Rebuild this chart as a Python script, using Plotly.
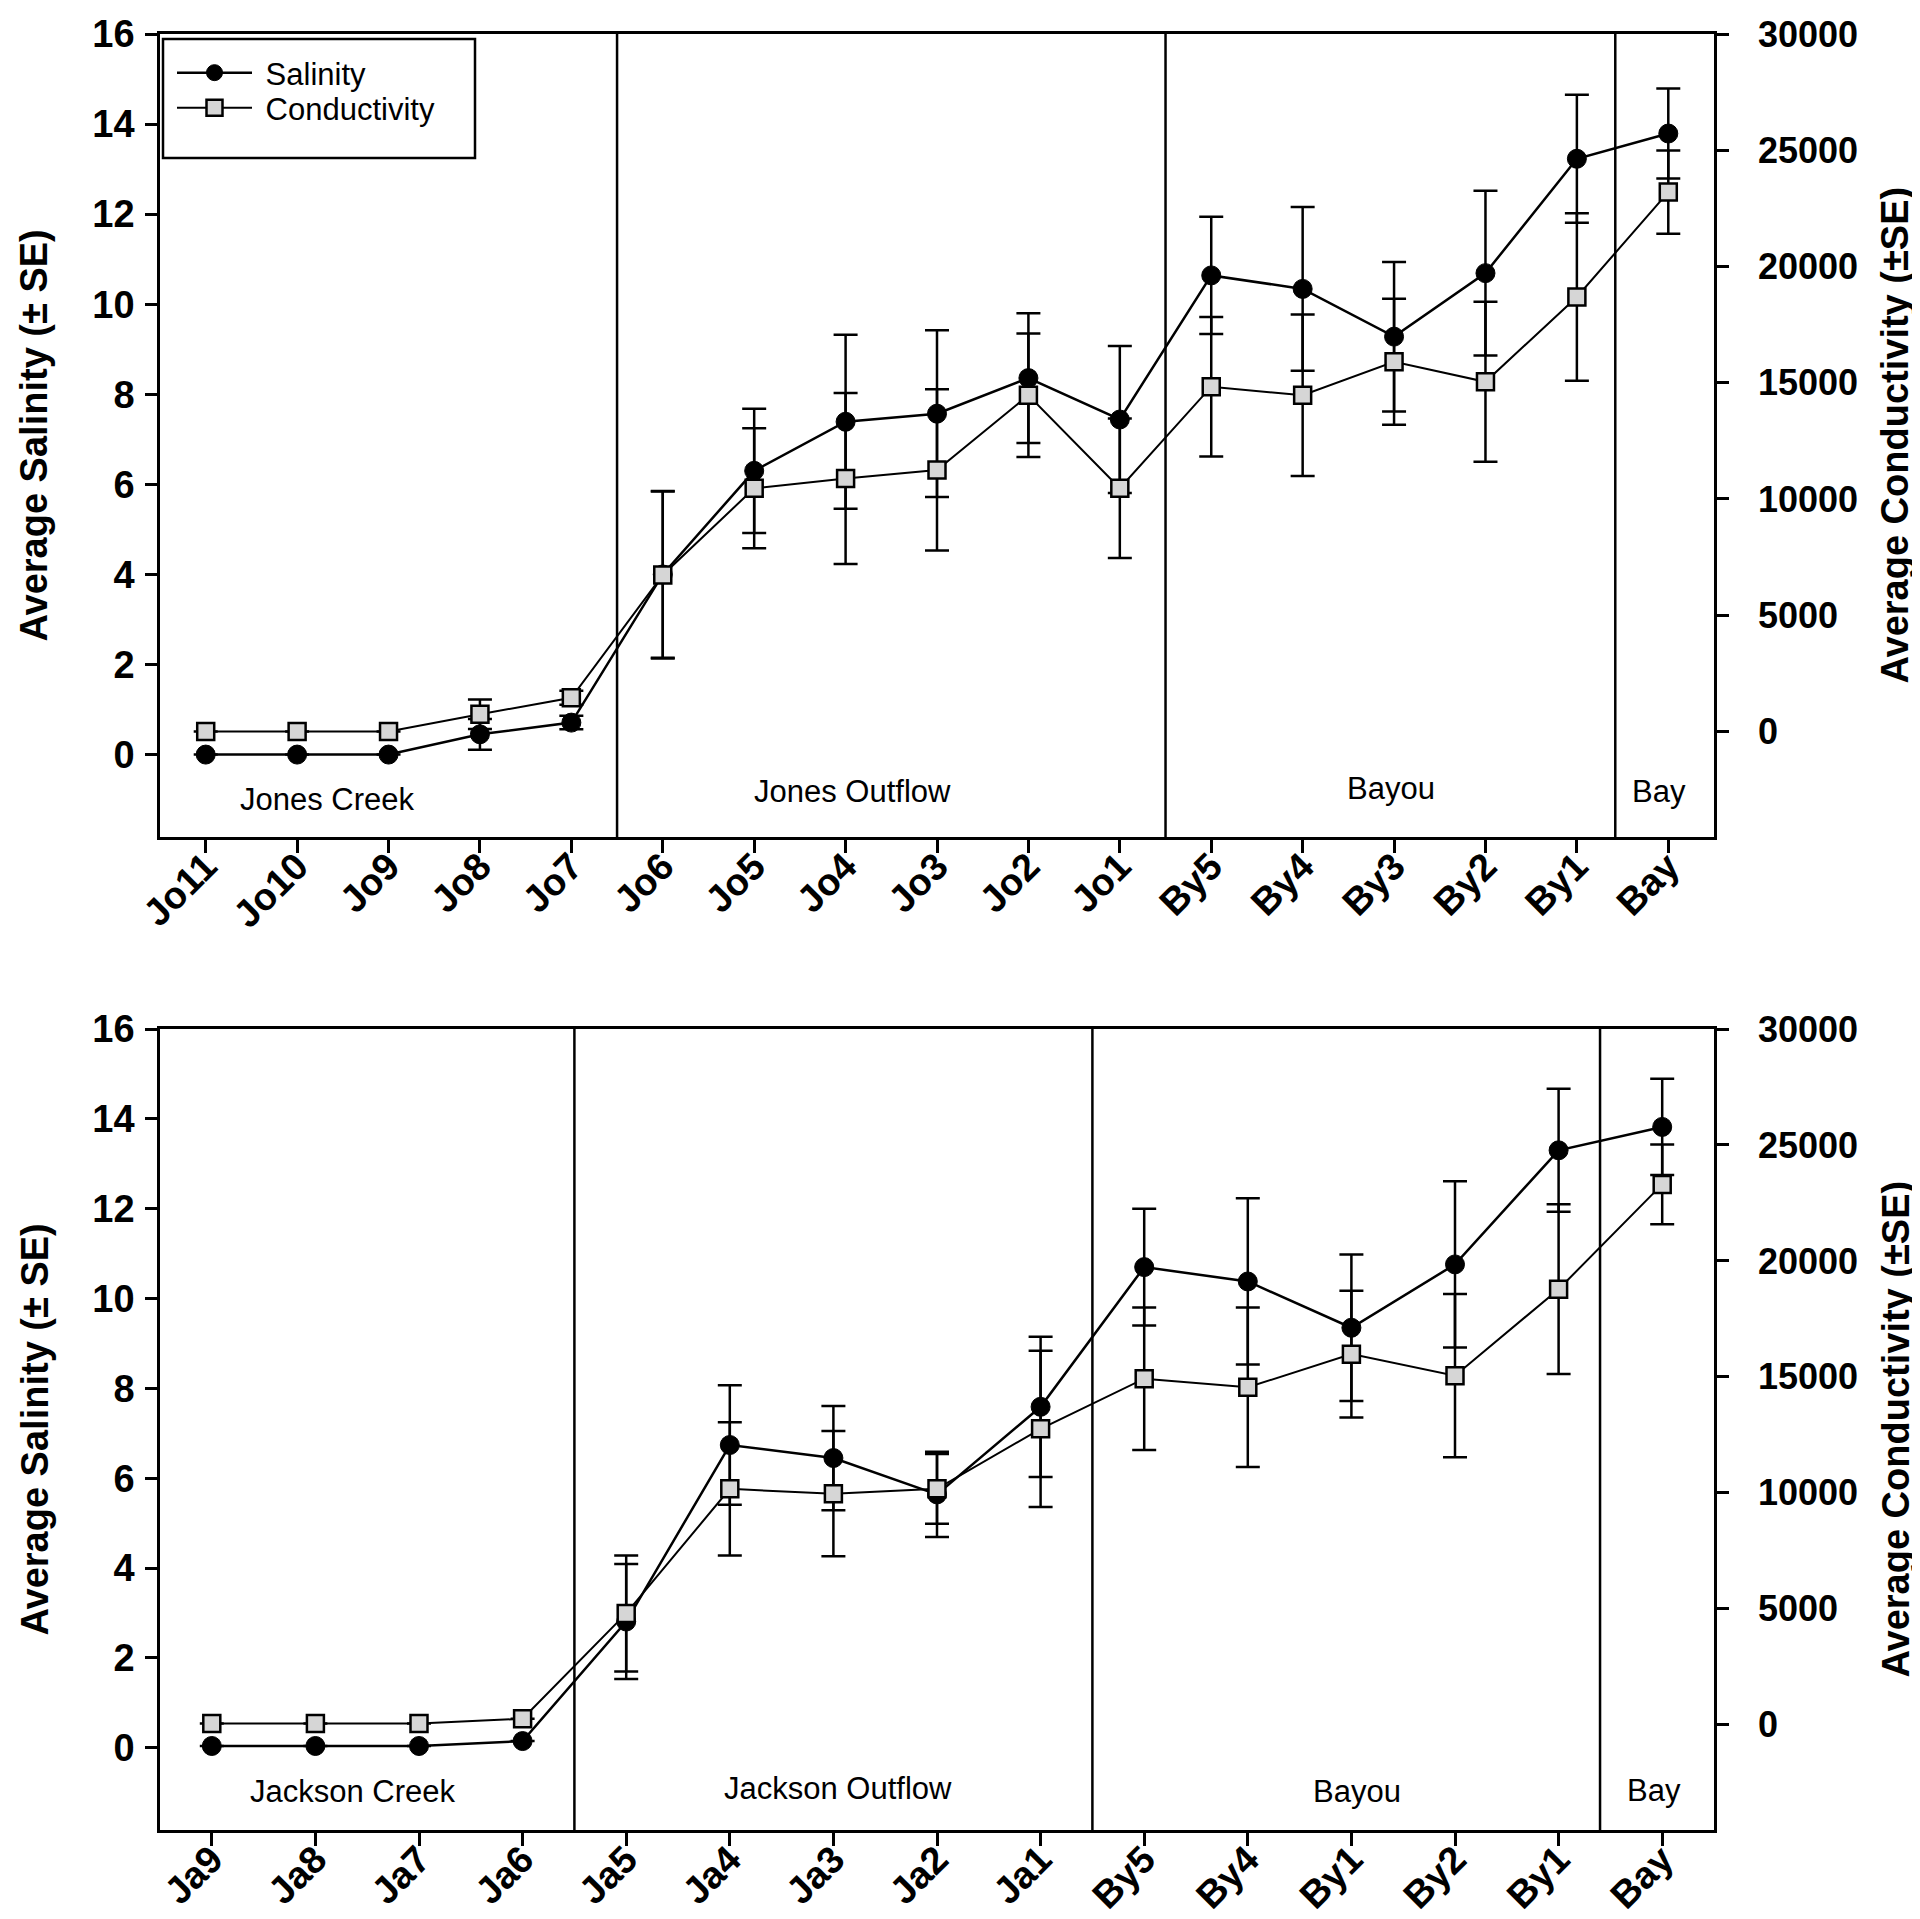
import plotly.graph_objects as go

# ---------------- data ----------------
sites_top = ["Jo11", "Jo10", "Jo9", "Jo8", "Jo7", "Jo6", "Jo5", "Jo4", "Jo3", "Jo2", "Jo1",
             "By5", "By4", "By3", "By2", "By1", "Bay"]
sal_top = [0.0, 0.0, 0.0, 0.45, 0.71, 4.0, 6.3, 7.39, 7.57, 8.36, 7.44,
           10.64, 10.34, 9.28, 10.69, 13.23, 13.79]
sal_top_se = [0.0, 0.0, 0.0, 0.34, 0.15, 1.85, 1.38, 1.93, 1.85, 1.44, 1.63,
              1.30, 1.82, 1.66, 1.83, 1.42, 1.00]
cond_top = [0, 0, 0, 740, 1450, 6730, 10460, 10880, 11250, 14460, 10460,
            14830, 14460, 15900, 15040, 18690, 23200]
cond_top_se = [0, 0, 0, 630, 300, 3590, 2580, 3680, 3470, 2660, 3000,
               3000, 3470, 2710, 3440, 3600, 1790]

sites_bot = ["Ja9", "Ja8", "Ja7", "Ja6", "Ja5", "Ja4", "Ja3", "Ja2", "Ja1",
             "By5", "By4", "By1", "By2", "By1", "Bay"]
sal_bot = [0.04, 0.04, 0.04, 0.15, 2.81, 6.74, 6.45, 5.64, 7.59,
           10.7, 10.38, 9.35, 10.76, 13.3, 13.82]
sal_bot_se = [0.0, 0.0, 0.0, 0.0, 1.28, 1.33, 1.16, 0.95, 1.56,
              1.3, 1.85, 1.63, 1.85, 1.37, 1.07]
cond_bot = [50, 50, 50, 260, 4800, 10170, 9960, 10170, 12760,
            14920, 14550, 15980, 15050, 18780, 23300]
cond_bot_se = [0, 0, 0, 0, 2500, 2870, 2700, 1500, 3370,
               3070, 3440, 2730, 3520, 3660, 1720]

# region dividers (category index positions) and labels
div_top = [4.5, 10.5, 15.42]
div_bot = [3.5, 8.5, 13.4]
reg_top = ["Jones Creek", "Jones Outflow", "Bayou", "Bay"]
reg_top_x = [1.33, 7.08, 12.97, 15.9]
reg_top_y = [-1.0, -0.82, -0.75, -0.82]
reg_bot = ["Jackson Creek", "Jackson Outflow", "Bayou", "Bay"]
reg_bot_x = [1.36, 6.04, 11.05, 13.92]
reg_bot_y = [-0.98, -0.9, -0.98, -0.95]

sal_ticks = list(range(0, 17, 2))
cond_ticks = list(range(0, 30001, 5000))

# ---------------- figure ----------------
W, H = 1920, 1919
FONT = "Liberation Sans, Arial, sans-serif"
BLK = "black"

def py(y):
    return 1 - y / H

xdom = [152 / W, 1706 / W]
ydom_top = [py(829), py(26)]
ydom_bot = [py(1822), py(1021)]

yfont = dict(family=FONT, size=38, color=BLK, weight="bold")
rfont = dict(family=FONT, size=36, color=BLK, weight="bold")
xfont = dict(family=FONT, size=38, color=BLK, weight="bold")

fig = go.Figure()

def add_pair(sal, sal_se, cond, cond_se, xa, ya, ya2, show):
    idx = list(range(len(sal)))
    fig.add_trace(go.Scatter(
        x=idx, y=sal, xaxis=xa, yaxis=ya, name="\u00a0Salinity", mode="lines+markers",
        line=dict(color=BLK, width=2.5),
        marker=dict(symbol="circle", size=19, color=BLK, line=dict(color=BLK, width=1)),
        error_y=dict(type="data", array=sal_se, visible=True, color=BLK, thickness=2.5, width=12),
        showlegend=show, legend="legend", cliponaxis=False))
    fig.add_trace(go.Scatter(
        x=idx, y=cond, xaxis=xa, yaxis=ya2, name="\u00a0Conductivity", mode="lines+markers",
        line=dict(color=BLK, width=2),
        marker=dict(symbol="square", size=17, color="#d6d6d6", line=dict(color=BLK, width=2.5)),
        error_y=dict(type="data", array=cond_se, visible=True, color=BLK, thickness=2.5, width=12),
        showlegend=show, legend="legend2", cliponaxis=False))

add_pair(sal_top, sal_top_se, cond_top, cond_top_se, "x", "y", "y2", True)
add_pair(sal_bot, sal_bot_se, cond_bot, cond_bot_se, "x2", "y3", "y4", False)

common_x = dict(showline=True, linewidth=2.5, linecolor=BLK, mirror=True, ticks="outside",
                ticklen=13, tickwidth=2.5, tickcolor=BLK, tickangle=-45, tickfont=xfont,
                showgrid=False, zeroline=False, automargin=False, ticklabelstandoff=-24)
common_yl = dict(showline=True, linewidth=2.5, linecolor=BLK, ticks="outside", ticklen=12,
                 tickwidth=2.5, tickcolor=BLK, tickfont=yfont, showgrid=False,
                 zeroline=False, automargin=False, range=[-1.83, 16],
                 tickvals=sal_ticks, ticklabelstandoff=3)
common_yr = dict(showline=True, linewidth=2.5, linecolor=BLK, ticks="outside", ticklen=12,
                 tickwidth=2.5, tickcolor=BLK, tickfont=rfont, showgrid=False,
                 zeroline=False, automargin=False, range=[-4540, 30000],
                 tickvals=cond_ticks, tickformat="d", side="right", ticklabelstandoff=22)

leg_common = dict(x=164 / W, xanchor="left", yanchor="middle", bgcolor="rgba(0,0,0,0)",
                  borderwidth=0, itemwidth=75, font=dict(family=FONT, size=31, color=BLK))

fig.update_layout(
    width=W, height=H, margin=dict(l=0, r=0, t=0, b=0),
    paper_bgcolor="white", plot_bgcolor="white", template="none",
    font=dict(family=FONT, color=BLK),
    xaxis=dict(domain=xdom, anchor="y", range=[-0.5, 16.5],
               tickvals=list(range(len(sites_top))), ticktext=sites_top, **common_x),
    yaxis=dict(domain=ydom_top, anchor="x", **common_yl),
    yaxis2=dict(overlaying="y", anchor="x", **common_yr),
    xaxis2=dict(domain=xdom, anchor="y3", range=[-0.5, 14.5],
                tickvals=list(range(len(sites_bot))), ticktext=sites_bot, **common_x),
    yaxis3=dict(domain=ydom_bot, anchor="x2", **common_yl),
    yaxis4=dict(overlaying="y3", anchor="x2", **common_yr),
    legend=dict(y=py(65), **leg_common),
    legend2=dict(y=py(100), **leg_common),
)

shapes = []
for d in div_top:
    shapes.append(dict(type="line", xref="x", yref="y domain", x0=d, x1=d, y0=0, y1=1,
                       line=dict(color=BLK, width=2.5)))
for d in div_bot:
    shapes.append(dict(type="line", xref="x2", yref="y3 domain", x0=d, x1=d, y0=0, y1=1,
                       line=dict(color=BLK, width=2.5)))
# legend box
shapes.append(dict(type="rect", xref="paper", yref="paper", x0=155 / W, x1=467 / W,
                   y0=py(150), y1=py(31), line=dict(color=BLK, width=2.5)))
fig.update_layout(shapes=shapes)

ann = []
for t, x, y in zip(reg_top, reg_top_x, reg_top_y):
    ann.append(dict(text=t, x=x, y=y, xref="x", yref="y", showarrow=False,
                    font=dict(family=FONT, size=31, color=BLK)))
for t, x, y in zip(reg_bot, reg_bot_x, reg_bot_y):
    ann.append(dict(text=t, x=x, y=y, xref="x2", yref="y3", showarrow=False,
                    font=dict(family=FONT, size=31, color=BLK)))
title_font = dict(family=FONT, size=38, color=BLK, weight="bold")
for yc in [(26 + 829) / 2, (1021 + 1822) / 2]:
    ann.append(dict(text="Average Salinity (± SE)", x=26 / W, y=py(yc), xref="paper",
                    yref="paper", showarrow=False, textangle=-90, font=title_font,
                    xanchor="center", yanchor="middle"))
    ann.append(dict(text="Average Conductivity (±SE)", x=1887 / W, y=py(yc), xref="paper",
                    yref="paper", showarrow=False, textangle=-90, font=title_font,
                    xanchor="center", yanchor="middle"))
fig.update_layout(annotations=ann)

fig.write_html("out.html")
